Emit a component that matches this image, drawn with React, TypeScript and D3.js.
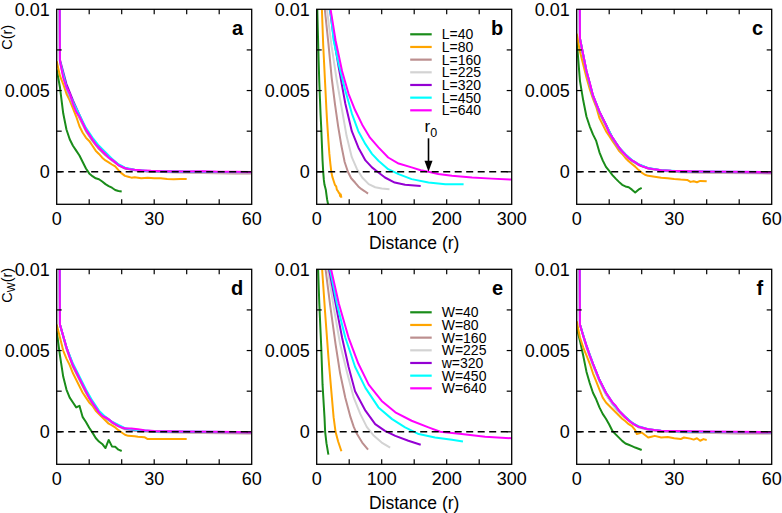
import React from 'react';
import * as d3 from 'd3';

type Pt = [number, number];

// ---------- labels / ticks ----------
const SIZES = [40, 80, 160, 225, 320, 450, 640];
const COLORS = ['#1a8c1a', '#ffa500', '#bc8f8f', '#d3d3d3', '#9400d3', '#00ffff', '#ff00ff'];
const LEGEND_L = ['L=40', 'L=80', 'L=160', 'L=225', 'L=320', 'L=450', 'L=640'];
const LEGEND_W = ['W=40', 'W=80', 'W=160', 'W=225', 'w=320', 'W=450', 'W=640'];
const X_TICKS_NARROW = [0, 30, 60];
const X_TICKS_WIDE = [0, 100, 200, 300];
const X_MINOR_NARROW = [10, 20, 30, 40, 50];
const X_MINOR_WIDE = [50, 100, 150, 200, 250];
const Y_TICKS = [0, 0.005, 0.01];
const Y_MINOR = [0, 0.0025, 0.005, 0.0075];
const Y_DOMAIN: Pt = [-0.002, 0.01];
const R0 = 172;

// ---------- panel a ----------
const a40: Pt[] = [[0,0.0063],[1,0.0052],[2,0.0036],[3,0.0026],[4,0.0020],[5,0.0016],[6,0.0013],[7,0.0010],[8,0.0006],[9,0.0002],[10,-0.0001],[11,-0.00027],[12,-0.0004],[13,-0.00046],[14,-0.0006],[15,-0.00076],[16,-0.00088],[17,-0.00098],[18,-0.00112],[19,-0.00118],[20,-0.00121]];
const a80: Pt[] = [[0,0.0068],[1,0.0059],[2,0.0054],[3,0.0048],[4,0.0044],[5,0.0039],[6,0.0034],[7,0.0028],[8,0.0024],[9,0.0021],[10,0.0019],[11,0.0016],[12,0.0013],[13,0.0011],[14,0.00087],[15,0.0007],[16,0.00058],[17,0.00045],[18,0.00033],[19,0.0001],[20,-0.0001],[21,-0.00025],[22,-0.0003],[23,-0.00036],[24,-0.00033],[26,-0.0004],[28,-0.00037],[30,-0.0004],[32,-0.0004],[34,-0.00044],[36,-0.00046],[38,-0.00044],[40,-0.00045]];
const a160: Pt[] = [[0,0.06],[1,0.0068],[3,0.0051],[5,0.0041],[7,0.0033],[9,0.0025],[11,0.0019],[13,0.0014],[15,0.00102],[17,0.0007],[19,0.0004],[21,0.0002],[24,0.0001],[28,0.00002],[35,-0.00003],[45,-0.00008],[55,-0.0001],[60,-0.0001]];
const a225: Pt[] = [[0,0.06],[1,0.0067],[3,0.0052],[5,0.0042],[7,0.0034],[9,0.0026],[11,0.0020],[13,0.0015],[15,0.0011],[17,0.00072],[19,0.00042],[21,0.00022],[24,0.0001],[28,0.00003],[35,-0.00002],[45,-0.00005],[60,-0.00006]];
const a320: Pt[] = [[0,0.06],[1,0.0069],[3,0.0054],[5,0.0044],[7,0.0035],[9,0.0026],[11,0.0020],[13,0.0015],[15,0.0011],[17,0.00074],[19,0.00043],[21,0.00022],[24,0.00011],[28,0.00004],[40,0.0],[60,-0.00003]];
const a450: Pt[] = [[0,0.06],[1,0.0068],[3,0.0052],[5,0.0043],[7,0.0035],[9,0.0027],[11,0.0021],[13,0.0016],[15,0.0012],[17,0.0008],[19,0.00047],[21,0.00025],[24,0.00012],[28,0.00005],[40,0.00001],[60,-0.00002]];
const a640: Pt[] = [[0,0.06],[1,0.0068],[2,0.0058],[3,0.0052],[4,0.0048],[5,0.0042],[6,0.0037],[7,0.0034],[8,0.0030],[9,0.0026],[10,0.0023],[11,0.0020],[12,0.0017],[13,0.0015],[14,0.0013],[15,0.0011],[16,0.00088],[17,0.00075],[18,0.0006],[19,0.00041],[20,0.00032],[21,0.00023],[22,0.00018],[24,0.00012],[26,0.00009],[29,0.00006],[33,0.00004],[40,0.00002],[45,0.00003],[50,0.00001],[55,0.0],[60,-0.00001]];

// ---------- panel b ----------
const b40: Pt[] = [[0,0.012],[1,0.0098],[2,0.0083],[3,0.0068],[4,0.0055],[5,0.0045],[6,0.0035],[7,0.0027],[8,0.0017],[9,0.0007],[10,0.0],[11,-0.0005],[12,-0.0008],[13,-0.00095],[14,-0.0011],[15,-0.0014],[16,-0.0017],[17,-0.0019],[18,-0.0021]];
const b80: Pt[] = [[0,0.03],[8,0.0100],[10,0.0078],[12,0.0062],[13,0.0054],[15,0.0038],[16,0.0031],[18,0.0019],[19.5,0.0011],[21,0.0005],[22.5,0.0],[24,-0.0003],[26,-0.00055],[28,-0.0008],[30,-0.0009],[31,-0.0011],[33,-0.0012],[34,-0.0013],[35,-0.0013],[36,-0.0015],[37,-0.0014],[38,-0.0016]];
const b160: Pt[] = [[0,0.03],[12,0.0102],[13,0.0098],[18,0.0079],[23,0.0058],[28,0.0042],[33,0.0028],[38,0.0016],[43,0.0006],[48,0.0],[53,-0.0004],[59,-0.00066],[64,-0.0009],[69,-0.00107],[74,-0.0012],[79,-0.00134]];
const b225: Pt[] = [[0,0.03],[15,0.0102],[17,0.0096],[23,0.0077],[31,0.0056],[39,0.0038],[46,0.0022],[54,0.0009],[62,0.00016],[70,-0.00035],[80,-0.00076],[90,-0.00095],[100,-0.00103],[112,-0.00107]];
const b320: Pt[] = [[0,0.03],[18,0.0103],[21,0.0098],[26,0.0083],[34,0.0064],[44,0.0042],[54,0.0025],[64,0.0015],[75,0.0007],[85,0.00027],[95,-0.00004],[105,-0.00035],[120,-0.00066],[136,-0.0008],[160,-0.00088]];
const b450: Pt[] = [[0,0.03],[19,0.0103],[22,0.0096],[26,0.0081],[34,0.0066],[44,0.005],[54,0.0036],[64,0.0025],[75,0.0017],[85,0.0011],[95,0.00068],[110,0.00016],[126,-0.00014],[146,-0.00045],[172,-0.00066],[198,-0.00076],[226,-0.00076]];
const b640: Pt[] = [[0,0.03],[20,0.0103],[23,0.0096],[29,0.0081],[39,0.0062],[49,0.0048],[59,0.0038],[70,0.0029],[82,0.0021],[95,0.0015],[110,0.00088],[126,0.00051],[146,0.00027],[160,0.0001],[172,0.0],[187,-0.00014],[208,-0.00025],[239,-0.00035],[269,-0.00042],[300,-0.00048]];

// ---------- panel c ----------
const c40: Pt[] = [[0,0.0081],[1,0.0056],[2,0.0044],[3,0.0034],[4,0.0028],[5,0.0023],[6,0.0019],[7,0.0012],[8,0.0007],[9,0.0003],[10,0.00005],[11,-0.0002],[12,-0.00042],[13,-0.00062],[14,-0.0008],[15,-0.0009],[16,-0.00095],[17,-0.0011],[18,-0.00127],[19,-0.0011],[20,-0.00099]];
const c80: Pt[] = [[0,0.0085],[1,0.0074],[2,0.0066],[3,0.0058],[4,0.0051],[5,0.0045],[6,0.0040],[7,0.0033],[8,0.0029],[9,0.0025],[10,0.0022],[11,0.0019],[12,0.0016],[13,0.0013],[14,0.0011],[15,0.00085],[16,0.00065],[17,0.00048],[18,0.00032],[19,0.00012],[20,-0.00005],[21,-0.00018],[22,-0.00025],[24,-0.0003],[26,-0.00036],[28,-0.0004],[30,-0.00045],[32,-0.00048],[34,-0.0005],[35,-0.00062],[36,-0.00058],[37,-0.00064],[38,-0.00056],[40,-0.00058]];
const c160: Pt[] = [[0,0.06],[1,0.0081],[3,0.0061],[5,0.0046],[7,0.0036],[9,0.0028],[11,0.0020],[13,0.0014],[15,0.00098],[17,0.00065],[19,0.00042],[22,0.0002],[26,0.00006],[32,-0.00003],[45,-0.00008],[60,-0.0001]];
const c225: Pt[] = [[0,0.06],[1,0.0082],[3,0.0062],[5,0.0047],[7,0.0037],[9,0.0029],[11,0.0021],[13,0.0015],[15,0.001],[17,0.00068],[19,0.00044],[22,0.00021],[26,0.00008],[32,0.0],[45,-0.00005],[60,-0.00006]];
const c320: Pt[] = [[0,0.06],[1,0.0082],[3,0.0062],[5,0.0047],[7,0.0037],[9,0.0029],[11,0.0021],[13,0.0015],[15,0.00105],[17,0.0007],[19,0.00045],[22,0.00022],[26,0.0001],[32,0.00002],[45,-0.00002],[60,-0.00004]];
const c450: Pt[] = [[0,0.06],[1,0.0082],[3,0.0062],[5,0.0047],[7,0.0037],[9,0.0029],[11,0.0021],[13,0.0015],[15,0.00108],[17,0.00072],[19,0.00047],[22,0.00023],[26,0.0001],[32,0.00003],[45,0.00001],[60,-0.00002]];
const c640: Pt[] = [[0,0.06],[1,0.0082],[2,0.0072],[3,0.0062],[4,0.0055],[5,0.0047],[6,0.0042],[7,0.0037],[8,0.0033],[9,0.0029],[10,0.0024],[11,0.0021],[12,0.0018],[13,0.0015],[14,0.00125],[15,0.00105],[16,0.00085],[17,0.0007],[18,0.0006],[19,0.00045],[20,0.00035],[22,0.00022],[24,0.00015],[26,0.0001],[29,0.00006],[35,0.00004],[40,0.00002],[50,0.0],[60,-0.00001]];

// ---------- panel d ----------
const d40: Pt[] = [[0,0.0062],[1,0.0047],[2,0.0034],[3,0.0026],[4,0.0021],[5,0.0018],[6,0.0015],[7,0.0016],[8,0.0009],[9,0.0006],[10,0.00025],[11,-0.00005],[12,-0.00038],[13,-0.0006],[14,-0.00075],[15,-0.001],[16,-0.0005],[17,-0.0009],[18,-0.00092],[19,-0.0011],[20,-0.00118]];
const d80: Pt[] = [[0,0.0066],[1,0.0058],[2,0.0050],[3,0.0045],[4,0.0041],[5,0.0036],[6,0.0032],[7,0.0028],[8,0.0024],[9,0.0021],[10,0.0018],[11,0.0016],[12,0.0013],[13,0.0011],[14,0.0009],[15,0.0007],[16,0.0005],[17,0.0004],[18,0.00027],[19,0.0001],[20,-0.00004],[21,-0.00018],[22,-0.00025],[24,-0.00027],[25,-0.0003],[27,-0.00033],[28,-0.00045],[30,-0.00045],[34,-0.00045],[40,-0.00045]];
const d160: Pt[] = [[0,0.06],[1,0.0066],[3,0.0051],[5,0.0040],[7,0.0032],[9,0.0024],[11,0.0017],[13,0.0012],[15,0.00085],[17,0.00056],[19,0.00034],[21,0.00015],[24,0.00006],[30,-0.00002],[45,-0.00008],[60,-0.0001]];
const d225: Pt[] = [[0,0.06],[1,0.0066],[3,0.0052],[5,0.0041],[7,0.0033],[9,0.0025],[11,0.0018],[13,0.0012],[15,0.00088],[17,0.00058],[19,0.00036],[21,0.00018],[24,0.00008],[30,0.0],[45,-0.00005],[60,-0.00006]];
const d320: Pt[] = [[0,0.06],[1,0.0066],[3,0.0052],[5,0.0041],[7,0.0033],[9,0.0025],[11,0.0018],[13,0.0012],[15,0.0009],[17,0.0006],[19,0.00038],[21,0.0002],[24,0.0001],[30,0.00002],[45,-0.00002],[60,-0.00004]];
const d450: Pt[] = [[0,0.06],[1,0.0066],[3,0.0052],[5,0.0042],[7,0.0034],[9,0.0026],[11,0.0019],[13,0.0013],[15,0.00092],[17,0.00062],[19,0.00042],[21,0.00022],[24,0.00012],[30,0.00004],[45,0.0],[60,-0.00002]];
const d640: Pt[] = [[0,0.06],[1,0.0066],[2,0.0059],[3,0.0052],[4,0.0046],[5,0.0041],[6,0.0037],[7,0.0033],[8,0.0029],[9,0.0025],[10,0.0021],[11,0.0018],[12,0.0015],[13,0.0012],[14,0.00098],[15,0.00088],[16,0.00078],[17,0.0006],[18,0.00047],[19,0.00035],[20,0.00027],[21,0.00022],[23,0.0002],[25,0.00016],[27,0.0001],[30,0.00005],[40,0.00002],[50,0.0],[60,-0.00002]];

// ---------- panel e ----------
const e40: Pt[] = [[0,0.03],[2,0.0102],[4,0.0079],[7,0.0052],[9,0.0029],[12,0.0009],[13,0.0],[15,-0.0007],[18,-0.0014]];
const e80: Pt[] = [[0,0.03],[8,0.0102],[13,0.0073],[18,0.0046],[22.5,0.0025],[26,0.0009],[29,0.0],[33,-0.0006],[38,-0.0012]];
const e160: Pt[] = [[0,0.03],[13,0.0102],[21,0.0077],[29,0.0054],[36,0.0036],[44,0.0021],[52,0.0009],[57,0.0003],[62,-0.00014],[70,-0.00066],[79,-0.0011]];
const e225: Pt[] = [[0,0.03],[16,0.0102],[26,0.0077],[36,0.0054],[47,0.0036],[57,0.0021],[67,0.0011],[77,0.0003],[88,-0.00025],[100,-0.00066],[113,-0.00098]];
const e320: Pt[] = [[0,0.03],[18,0.0102],[29,0.0079],[39,0.0058],[49,0.004],[59,0.0025],[75,0.0013],[90,0.00047],[105,0.00006],[121,-0.00025],[141,-0.00055],[160,-0.0008]];
const e450: Pt[] = [[0,0.03],[19.5,0.0102],[31,0.0079],[44,0.0058],[59,0.004],[75,0.0027],[95,0.0015],[116,0.00078],[136,0.00027],[157,-0.00014],[182,-0.00035],[208,-0.00049],[225,-0.0006]];
const e640: Pt[] = [[0,0.03],[21,0.0102],[34,0.0079],[49,0.0058],[64,0.0042],[80,0.0029],[100,0.0019],[121,0.0012],[146,0.00068],[172,0.00027],[190,0.0],[223,-0.00014],[259,-0.0003],[300,-0.0004]];

// ---------- panel f ----------
const f40: Pt[] = [[0,0.0064],[1,0.0056],[2,0.0047],[3,0.0037],[4,0.003],[5,0.0024],[6,0.002],[7,0.0015],[8,0.0011],[9,0.0008],[10,0.00045],[11,0.00005],[12,-0.00016],[13,-0.00036],[14,-0.00056],[15,-0.00072],[16,-0.0008],[17,-0.00088],[18,-0.00097],[19,-0.00104],[20,-0.00112]];
const f80: Pt[] = [[0,0.0068],[1,0.0058],[2,0.0052],[3,0.0047],[4,0.0042],[5,0.0036],[6,0.0031],[7,0.0026],[8,0.0021],[9,0.0018],[10,0.0016],[11,0.0014],[12,0.0012],[13,0.001],[14,0.0008],[15,0.00065],[16,0.00047],[17,0.00035],[18,0.0001],[18.5,-0.00014],[20,-0.00004],[21,-0.0002],[22,-0.00035],[23,-0.0003],[24,-0.00025],[26,-0.00035],[28,-0.00032],[30,-0.0004],[32,-0.00045],[33,-0.00035],[35,-0.00042],[36,-0.00048],[37,-0.0004],[38,-0.00055],[39,-0.00045],[40,-0.0005]];
const f160: Pt[] = [[0,0.06],[1,0.0066],[3,0.0052],[5,0.0041],[7,0.0031],[9,0.0023],[11,0.0017],[13,0.0012],[15,0.00085],[17,0.00052],[19,0.00028],[22,0.00012],[26,0.00002],[35,-0.00005],[50,-0.0001],[60,-0.0001]];
const f225: Pt[] = [[0,0.06],[1,0.0066],[3,0.0052],[5,0.0041],[7,0.0031],[9,0.0023],[11,0.0017],[13,0.0012],[15,0.00088],[17,0.00054],[19,0.0003],[22,0.00014],[26,0.00004],[35,-0.00003],[50,-0.00006],[60,-0.00006]];
const f320: Pt[] = [[0,0.06],[1,0.0066],[3,0.0053],[5,0.0042],[7,0.0032],[9,0.0024],[11,0.0018],[13,0.0013],[15,0.0009],[17,0.00055],[19,0.00032],[22,0.00015],[26,0.00005],[35,0.0],[50,-0.00003],[60,-0.00004]];
const f450: Pt[] = [[0,0.06],[1,0.0066],[3,0.0053],[5,0.0042],[7,0.0032],[9,0.0024],[11,0.0018],[13,0.0013],[15,0.00092],[17,0.00056],[19,0.00034],[22,0.00016],[26,0.00006],[35,0.00001],[50,-0.00001],[60,-0.00002]];
const f640: Pt[] = [[0,0.06],[1,0.0066],[2,0.0059],[3,0.0053],[4,0.0047],[5,0.0042],[6,0.0037],[7,0.0032],[8,0.0028],[9,0.0024],[10,0.0021],[11,0.0018],[12,0.0016],[13,0.0013],[14,0.0011],[15,0.0009],[16,0.0007],[17,0.00055],[18,0.00042],[19,0.00032],[20,0.00027],[22,0.00016],[24,0.00011],[26,0.00007],[30,0.00005],[40,0.00002],[50,0.0],[60,-0.00001]];

// ---------- layout ----------
const PW = 195;
const PH = 195;
const COL_X = [56.7, 316.7, 576.7];
const ROW_Y = [9.3, 269.3];
const FONT = 'Liberation Sans, Arial, Helvetica, sans-serif';

type PanelDef = {
  id: string; col: number; row: number; xMax: number; series: Pt[][];
  legend?: string[]; legendTop?: number; r0?: boolean; xLabel?: boolean;
};

const PANELS: PanelDef[] = [
  { id: 'a', col: 0, row: 0, xMax: 60, series: [a40, a80, a160, a225, a320, a450, a640] },
  { id: 'b', col: 1, row: 0, xMax: 300, series: [b40, b80, b160, b225, b320, b450, b640], legend: LEGEND_L, legendTop: 25, r0: true, xLabel: true },
  { id: 'c', col: 2, row: 0, xMax: 60, series: [c40, c80, c160, c225, c320, c450, c640] },
  { id: 'd', col: 0, row: 1, xMax: 60, series: [d40, d80, d160, d225, d320, d450, d640] },
  { id: 'e', col: 1, row: 1, xMax: 300, series: [e40, e80, e160, e225, e320, e450, e640], legend: LEGEND_W, legendTop: 43, xLabel: true },
  { id: 'f', col: 2, row: 1, xMax: 60, series: [f40, f80, f160, f225, f320, f450, f640] },
];

function Panel({ p }: { p: PanelDef }) {
  const x0 = COL_X[p.col];
  const y0 = ROW_Y[p.row];
  const xs = d3.scaleLinear().domain([0, p.xMax]).range([x0, x0 + PW]);
  const ys = d3.scaleLinear().domain(Y_DOMAIN).range([y0 + PH, y0]);
  const line = d3.line<Pt>().x(d => xs(d[0])).y(d => ys(d[1]));
  const wide = p.xMax > 100;
  const xTicks = wide ? X_TICKS_WIDE : X_TICKS_NARROW;
  const xMinor = wide ? X_MINOR_WIDE : X_MINOR_NARROW;
  const clipId = `clip-${p.id}`;
  const TL = 5;
  return (
    <g>
      <defs>
        <clipPath id={clipId}>
          <rect x={x0} y={y0} width={PW} height={PH} />
        </clipPath>
      </defs>
      <g clipPath={`url(#${clipId})`}>
        {p.series.map((s, i) => (
          <path key={i} d={line(s) || ''} fill="none" stroke={COLORS[i]} strokeWidth={2} strokeLinejoin="round" />
        ))}
        <line x1={xs(0)} x2={xs(p.xMax)} y1={ys(0)} y2={ys(0)} stroke="#000" strokeWidth={1.5} strokeDasharray="7,4.5" />
      </g>
      <rect x={x0} y={y0} width={PW} height={PH} fill="none" stroke="#000" strokeWidth={1.3} />
      {xMinor.map(t => (
        <g key={`xt${t}`}>
          <line x1={xs(t)} x2={xs(t)} y1={y0 + PH} y2={y0 + PH - TL} stroke="#000" strokeWidth={1.2} />
          <line x1={xs(t)} x2={xs(t)} y1={y0} y2={y0 + TL} stroke="#000" strokeWidth={1.2} />
        </g>
      ))}
      {Y_MINOR.map(t => (
        <g key={`yt${t}`}>
          <line x1={x0} x2={x0 + TL} y1={ys(t)} y2={ys(t)} stroke="#000" strokeWidth={1.2} />
          <line x1={x0 + PW} x2={x0 + PW - TL} y1={ys(t)} y2={ys(t)} stroke="#000" strokeWidth={1.2} />
        </g>
      ))}
      {xTicks.map(t => (
        <text key={`xl${t}`} x={xs(t)} y={y0 + PH + 21} textAnchor="middle" fontSize={18} fontFamily={FONT}>{t}</text>
      ))}
      {Y_TICKS.map(t => (
        <text key={`yl${t}`} x={x0 - 7} y={ys(t)} dy="0.35em" textAnchor="end" fontSize={18} fontFamily={FONT}>{t === 0 ? '0' : String(t)}</text>
      ))}
      <text x={x0 + PW - 8.5} y={y0 + 26} textAnchor="end" fontSize={20} fontWeight="bold" fontFamily={FONT}>{p.id}</text>
      {p.xLabel && (
        <text x={x0 + PW / 2} y={y0 + PH + 45} textAnchor="middle" fontSize={17.5} fontFamily={FONT}>Distance (r)</text>
      )}
      {p.legend && p.legend.map((lab, i) => {
        const ly = y0 + (p.legendTop || 0) + i * 12.67;
        return (
          <g key={lab}>
            <line x1={x0 + 93.5} x2={x0 + 115} y1={ly} y2={ly} stroke={COLORS[i]} strokeWidth={2.2} />
            <text x={x0 + 125} y={ly} dy="0.36em" fontSize={14} fontFamily={FONT}>{lab}</text>
          </g>
        );
      })}
      {p.r0 && (
        <g>
          <text x={xs(R0) - 4} y={y0 + 123} fontSize={17} fontFamily={FONT}>r<tspan fontSize={12.5} dy={4.5}>0</tspan></text>
          <line x1={xs(R0)} x2={xs(R0)} y1={y0 + 129} y2={ys(0) - 9} stroke="#000" strokeWidth={1.6} />
          <path d={`M${xs(R0) - 4},${ys(0) - 11}L${xs(R0) + 4},${ys(0) - 11}L${xs(R0)},${ys(0)}Z`} fill="#000" />
        </g>
      )}
    </g>
  );
}

export default function App() {
  return (
    <svg width={782} height={513} style={{ position: 'absolute', left: 0, top: 0, background: '#fff' }}>
      <rect x={0} y={0} width={782} height={513} fill="#fff" />
      {PANELS.map(p => <Panel key={p.id} p={p} />)}
      <text transform={`translate(11.5,${ROW_Y[0] + 28}) rotate(-90)`} textAnchor="middle" fontSize={14.5} fontFamily={FONT}>C(r)</text>
      <text transform={`translate(11.5,${ROW_Y[1] + 16}) rotate(-90)`} textAnchor="middle" fontSize={14.5} fontFamily={FONT}>C<tspan fontSize={10.5} dy={3.5}>W</tspan><tspan dy={-3.5}>(r)</tspan></text>
    </svg>
  );
}
